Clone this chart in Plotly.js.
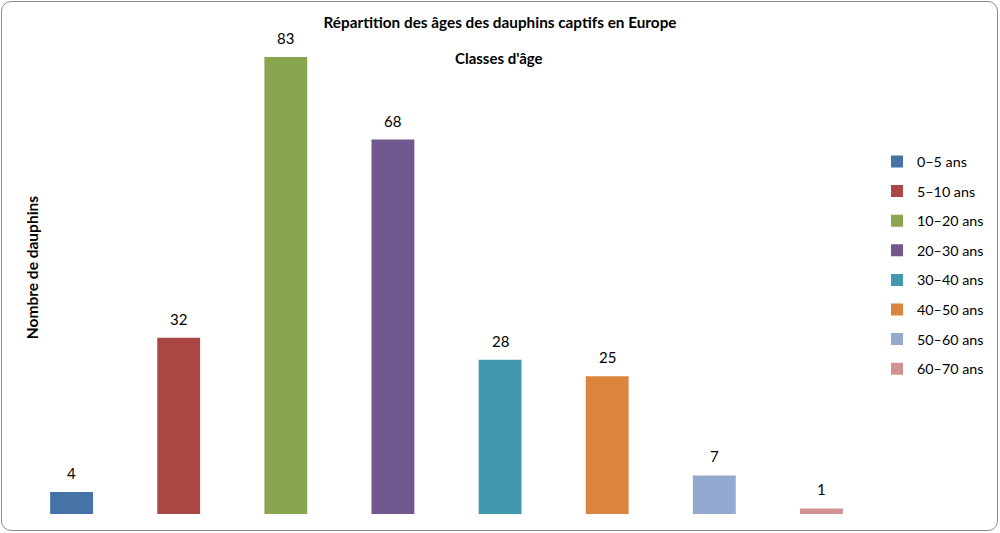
<!DOCTYPE html>
<html>
<head>
<meta charset="utf-8">
<script src="https://cdn.plot.ly/plotly-3.0.1.min.js"></script>
<style>
  body { margin: 0; background: #fff; }
  #wrap { position: relative; width: 1000px; height: 533px; }
  #graph { position: absolute; left: 0; top: 0; width: 1000px; height: 533px; }
  #frame {
    position: absolute; left: 1px; top: 1px; width: 997px; height: 530px;
    box-sizing: border-box; border: 1.5px solid #8c8c8c; border-radius: 10px;
    pointer-events: none;
  }
</style>
</head>
<body>
<div id="wrap">
  <div id="graph"></div>
  <div id="frame"></div>
</div>
<script>
var classes = ["0–5 ans", "5–10 ans", "10–20 ans", "20–30 ans", "30–40 ans", "40–50 ans", "50–60 ans", "60–70 ans"];
var counts = [4, 32, 83, 68, 28, 25, 7, 1];
var colors = ["#4572A7", "#AA4643", "#89A54E", "#71588F", "#4198AF", "#DB843D", "#93A9CF", "#D19392"];

var font = "Lato, Carlito, Calibri, 'Open Sans', sans-serif";

function buildTraces(){
    var data = [];
    for(let i = 0; i < classes.length; i++){
        data.push({
            type: "bar",
            name: classes[i],
            legendgroup: "g" + i,
            x: [classes[i]],
            y: [counts[i]],
            width: 0.4,
            marker: {color: colors[i]},
            hoverinfo: "x+y"
        });
    }
    return data;
}

function buildLabels(){
    // valeurs au-dessus des barres
    var notes = [];
    for(let i = 0; i < classes.length; i++){
        notes.push({
            x: classes[i], y: counts[i], xref: "x", yref: "y",
            text: String(counts[i]), showarrow: false,
            yanchor: "bottom", yshift: 8,
            font: {family: font, size: 15, color: "#000"}
        });
    }
    notes.push({
        xref: "paper", yref: "paper", x: 0.5618, y: 0.942,
        text: "<b>Classes d'âge</b>", showarrow: false,
        xanchor: "center", yanchor: "middle",
        font: {family: font, size: 15, color: "#000"}
    });
    notes.push({
        xref: "paper", yref: "paper", x: 0.0163, y: 0.51,
        text: "<b>Nombre de dauphins</b>", showarrow: false, textangle: -90,
        xanchor: "center", yanchor: "middle",
        font: {family: font, size: 15.5, color: "#000"}
    });
    return notes;
}

var layout = {
    width: 1000,
    height: 533,
    margin: {l: 18, r: 124, t: 30, b: 19},
    paper_bgcolor: "rgba(0,0,0,0)",
    plot_bgcolor: "rgba(0,0,0,0)",
    title: {
        text: "<b>Répartition des âges des dauphins captifs en Europe</b>",
        x: 0.5, xref: "container", y: 0.958, yref: "container",
        xanchor: "center", yanchor: "middle",
        font: {family: font, size: 15.3, color: "#000"}
    },
    barmode: "overlay",
    showlegend: true,
    legend: {
        x: 1.0012, xanchor: "left", y: 0.514, yanchor: "middle",
        font: {family: font, size: 14.3, color: "#000"},
        tracegroupgap: 8,
        itemwidth: 30
    },
    xaxis: {
        type: "category",
        showticklabels: false, showgrid: false, zeroline: false, showline: false, ticks: ""
    },
    yaxis: {
        range: [0, 87.9],
        showticklabels: false, showgrid: false, zeroline: false, showline: false, ticks: ""
    },
    annotations: buildLabels()
};

Plotly.newPlot("graph", buildTraces(), layout, {displayModeBar: false, staticPlot: true});
</script>
</body>
</html>
